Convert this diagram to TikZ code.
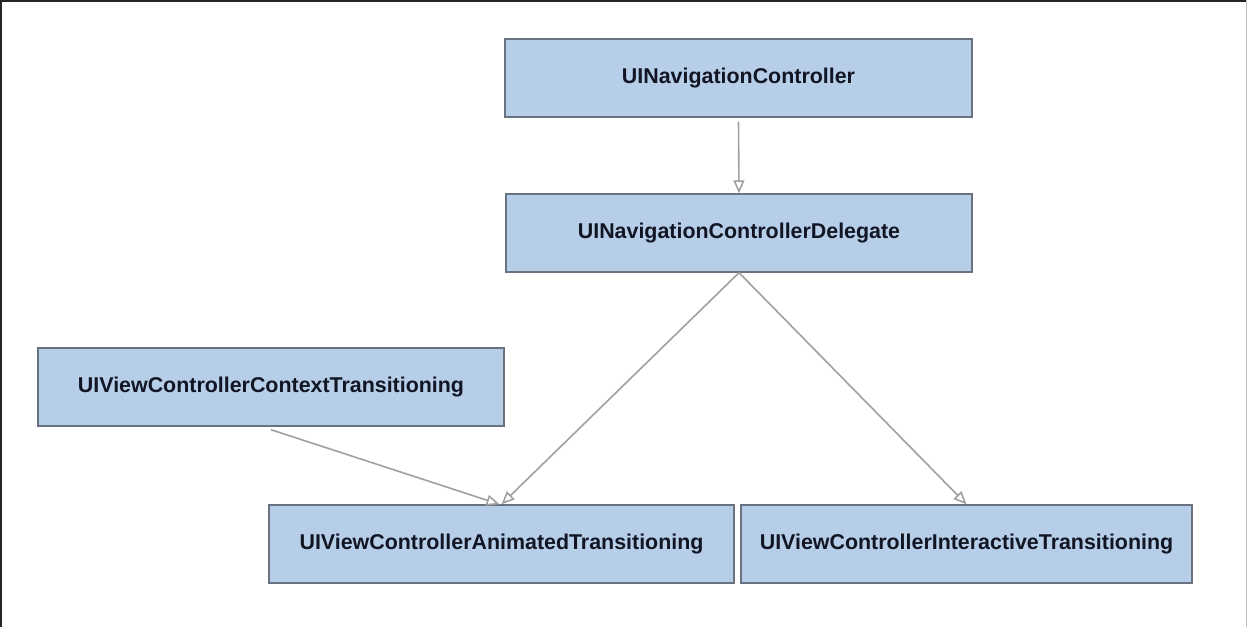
\documentclass[tikz,border=0pt]{standalone}
\usepackage{fontspec}
\setmainfont{Liberation Sans}
\usetikzlibrary{arrows.meta,calc}
\definecolor{boxfill}{RGB}{182,206,232}
\definecolor{boxline}{RGB}{105,115,127}
\definecolor{arrowgray}{RGB}{160,160,160}
\definecolor{textnavy}{RGB}{18,22,36}
\tikzset{
  cls/.style={draw=boxline, line width=1.4pt, fill=boxfill, minimum height=78pt, inner sep=0pt,
    font=\fontsize{21.4}{24}\selectfont\bfseries, text=textnavy},
  rel/.style={draw=arrowgray, line width=1.6pt, -{Triangle[open, length=13pt, width=11pt]}}
}
\begin{document}
\begin{tikzpicture}[x=1pt,y=-1pt]
\useasboundingbox (0,0) rectangle (1247,627);
\draw[line width=2pt, black!85] (0,1) -- (1247,1);
\draw[line width=2pt, black!85] (1,0) -- (1,627);
\draw[line width=1pt, black!25] (1246,0) -- (1246,627);

\node[cls, minimum width=467pt] (nav) at (738.5,78) {UINavigationController};
\node[cls, minimum width=466pt] (del) at (739,233) {UINavigationControllerDelegate};
\node[cls, minimum width=466pt] (ctx) at (271,387) {UIViewControllerContextTransitioning};
\node[cls, minimum width=465pt] (ani) at (501.5,544) {UIViewControllerAnimatedTransitioning};
\node[cls, minimum width=451pt] (int) at (966.5,544) {UIViewControllerInteractiveTransitioning};

\draw[rel] ($(nav.south)+(0,4)$) -- (del.north);
\draw[rel] (del.south) -- (ani.north);
\draw[rel] (del.south) -- (int.north);
\draw[rel] ($(ctx.south)+(0,3)$) -- ($(ani.north)+(-2,0)$);
\end{tikzpicture}
\end{document}
